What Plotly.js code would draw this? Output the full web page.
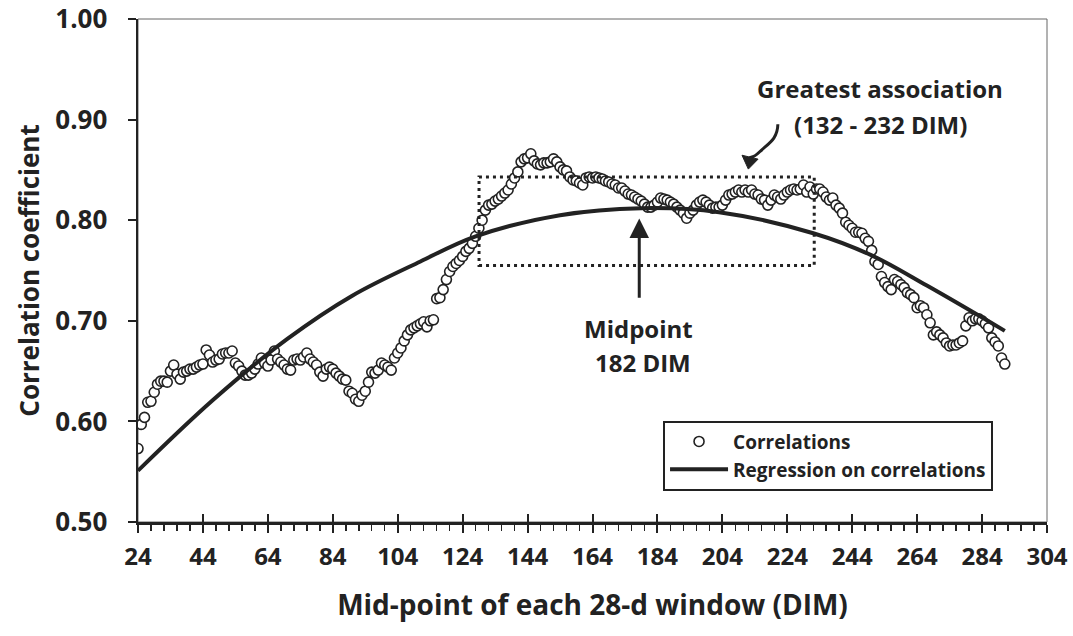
<!DOCTYPE html>
<html>
<head>
<meta charset="utf-8">
<script src="https://cdn.plot.ly/plotly-3.0.1.min.js"></script>
<style>html,body{margin:0;padding:0;background:#fff;}#chart{width:1073px;height:636px;}</style>
</head>
<body>
<div id="chart"></div>
<script>
// Mid-point of each 28-d window (DIM)
const dim = [
 24,25,26,27,28,29,30,31,32,33,
 34,35,36,37,38,39,40,41,42,43,
 44,45,46,47,48,49,50,51,52,53,
 54,55,56,57,58,59,60,61,62,63,
 64,65,66,67,68,69,70,71,72,73,
 74,75,76,77,78,79,80,81,82,83,
 84,85,86,87,88,89,90,91,92,93,
 94,95,96,97,98,99,100,101,102,103,
 104,105,106,107,108,109,110,111,112,113,
 114,115,116,117,118,119,120,121,122,123,
 124,125,126,127,128,129,130,131,132,133,
 134,135,136,137,138,139,140,141,142,143,
 144,145,146,147,148,149,150,151,152,153,
 154,155,156,157,158,159,160,161,162,163,
 164,165,166,167,168,169,170,171,172,173,
 174,175,176,177,178,179,180,181,182,183,
 184,185,186,187,188,189,190,191,192,193,
 194,195,196,197,198,199,200,201,202,203,
 204,205,206,207,208,209,210,211,212,213,
 214,215,216,217,218,219,220,221,222,223,
 224,225,226,227,228,229,230,231,232,233,
 234,235,236,237,238,239,240,241,242,243,
 244,245,246,247,248,249,250,251,252,253,
 254,255,256,257,258,259,260,261,262,263,
 264,265,266,267,268,269,270,271,272,273,
 274,275,276,277,278,279,280,281,282,283,
 284,285,286,287,288,289,290,291
];
// Correlation coefficients
const correlations = [
 0.573,0.597,0.604,0.619,0.620,0.629,0.637,0.640,0.640,0.639,
 0.650,0.656,0.647,0.642,0.649,0.650,0.652,0.652,0.654,0.656,
 0.657,0.671,0.666,0.659,0.661,0.662,0.667,0.668,0.668,0.670,
 0.658,0.655,0.650,0.646,0.646,0.648,0.652,0.657,0.663,0.658,
 0.655,0.661,0.670,0.662,0.659,0.656,0.652,0.651,0.661,0.662,
 0.661,0.664,0.668,0.662,0.659,0.656,0.649,0.645,0.652,0.654,
 0.652,0.648,0.645,0.642,0.641,0.630,0.628,0.622,0.620,0.626,
 0.630,0.639,0.649,0.648,0.651,0.658,0.656,0.654,0.651,0.663,
 0.668,0.673,0.680,0.686,0.691,0.693,0.695,0.697,0.699,0.694,
 0.700,0.701,0.722,0.723,0.731,0.741,0.749,0.754,0.757,0.760,
 0.764,0.769,0.772,0.777,0.784,0.792,0.800,0.810,0.815,0.816,
 0.819,0.821,0.824,0.827,0.830,0.836,0.842,0.848,0.858,0.861,
 0.862,0.866,0.859,0.856,0.855,0.857,0.857,0.858,0.861,0.858,
 0.853,0.850,0.849,0.843,0.840,0.839,0.837,0.835,0.842,0.843,
 0.842,0.843,0.842,0.841,0.839,0.838,0.836,0.835,0.832,0.832,
 0.829,0.826,0.825,0.823,0.821,0.819,0.816,0.813,0.813,0.815,
 0.818,0.822,0.821,0.820,0.818,0.816,0.813,0.810,0.807,0.802,
 0.807,0.810,0.815,0.818,0.820,0.818,0.815,0.812,0.813,0.813,
 0.815,0.820,0.825,0.826,0.828,0.830,0.828,0.830,0.828,0.830,
 0.826,0.825,0.821,0.820,0.815,0.820,0.825,0.823,0.821,0.825,
 0.828,0.830,0.831,0.830,0.831,0.835,0.828,0.833,0.826,0.831,
 0.831,0.828,0.823,0.820,0.822,0.815,0.812,0.807,0.798,0.795,
 0.792,0.788,0.788,0.787,0.782,0.779,0.770,0.759,0.756,0.744,
 0.738,0.734,0.731,0.741,0.739,0.736,0.733,0.728,0.726,0.723,
 0.713,0.715,0.713,0.706,0.698,0.686,0.689,0.686,0.683,0.678,
 0.675,0.676,0.676,0.678,0.680,0.695,0.703,0.700,0.702,0.702,
 0.700,0.697,0.693,0.683,0.679,0.675,0.663,0.657
];
// Regression on correlations
const regDim = [24, 47, 70, 90, 111, 128, 154, 179, 203, 232, 250, 267, 291];
const regCorr = [0.551, 0.621, 0.682, 0.725, 0.759, 0.784, 0.805, 0.812, 0.808, 0.787, 0.765, 0.735, 0.690];

const xTickVals = [24,44,64,84,104,124,144,164,184,204,224,244,264,284,304];
const yTickVals = [0.50,0.60,0.70,0.80,0.90,1.00];
const yTickText = ['0.50','0.60','0.70','0.80','0.90','1.00'];

const FONT = 'Open Sans, Noto Sans, sans-serif';
const INK = '#222';

const traces = [
  {
    x: dim, y: correlations, type: 'scatter', mode: 'markers', name: 'Correlations',
    marker: {symbol: 'circle', size: 10, color: '#fff', line: {color: INK, width: 1.6}},
    hoverinfo: 'x+y'
  },
  {
    x: regDim, y: regCorr, type: 'scatter', mode: 'lines', name: 'Regression on correlations',
    line: {color: INK, width: 4, shape: 'spline', smoothing: 1},
    hoverinfo: 'skip'
  },
  {
    x: [], y: [], xaxis: 'x2', type: 'scatter', mode: 'markers', showlegend: false, hoverinfo: 'skip'
  }
];

const layout = {
  width: 1073, height: 636,
  margin: {l: 138, r: 26, t: 19, b: 114, pad: 0},
  paper_bgcolor: '#fff', plot_bgcolor: '#fff',
  font: {family: FONT, color: INK},
  showlegend: true,
  xaxis: {
    range: [24, 304], tickmode: 'array', tickvals: xTickVals,
    ticks: 'outside', ticklen: 8, tickwidth: 2, tickcolor: INK,
    showline: true, linewidth: 2.5, linecolor: INK,
    showgrid: false, zeroline: false,
    tickfont: {family: FONT, size: 24, weight: 700, color: INK},
    ticklabelstandoff: 4, ticklabeloverflow: 'allow',
    minor: {ticks: 'outside', dtick: 4, tick0: 24, ticklen: 6, tickwidth: 1.5, tickcolor: INK, showgrid: false},
    title: {text: 'Mid-point of each 28-d window (DIM)', font: {family: FONT, size: 28, weight: 700, color: INK}, standoff: 24}
  },
  xaxis2: {
    overlaying: 'x', anchor: 'y', side: 'bottom', range: [24, 304],
    tickmode: 'array', tickvals: xTickVals, ticks: 'inside', ticklen: 8, tickwidth: 2, tickcolor: INK,
    showticklabels: false, showline: false, showgrid: false, zeroline: false
  },
  yaxis: {
    range: [0.5, 1.0], tickmode: 'array', tickvals: yTickVals, ticktext: yTickText,
    ticks: 'outside', ticklen: 8, tickwidth: 2, tickcolor: INK,
    showline: true, linewidth: 2.5, linecolor: INK,
    showgrid: false, zeroline: false,
    tickfont: {family: FONT, size: 26, weight: 700, color: INK},
    ticklabelstandoff: 15, ticklabeloverflow: 'allow',
    title: {text: 'Correlation coefficient', font: {family: FONT, size: 26, weight: 700, color: INK}, standoff: 8}
  },
  legend: {
    x: 0.5776, y: 0.2016, xanchor: 'left', yanchor: 'top',
    bgcolor: '#fff', bordercolor: INK, borderwidth: 2,
    font: {family: FONT, size: 19, weight: 700, color: INK},
    itemwidth: 58, tracegroupgap: 0
  },
  shapes: [
    {type: 'rect', xref: 'paper', yref: 'paper', x0: 0, x1: 1, y0: 0, y1: 1,
     line: {color: '#666', width: 1}, layer: 'below'},
    {type: 'rect', xref: 'x', yref: 'y', x0: 129.05, x1: 232.3, y0: 0.755, y1: 0.843,
     line: {color: INK, width: 3, dash: '3px,4px'}, fillcolor: 'rgba(0,0,0,0)'},
    {type: 'path', xref: 'x', yref: 'y',
     path: 'M221.1,0.8953 C221.0,0.880 218.0,0.876 215.5,0.868 S212.6,0.864 212.5,0.8617',
     line: {color: INK, width: 3}},
    {type: 'path', xref: 'x', yref: 'y',
     path: 'M212.0,0.8508 L210.05,0.8646 L215.0,0.8607 Z',
     line: {color: INK, width: 1}, fillcolor: INK}
  ],
  annotations: [
    {x: 252.6, y: 0.9308, xref: 'x', yref: 'y', text: 'Greatest association', showarrow: false,
     font: {family: FONT, size: 24, weight: 700, color: INK}},
    {x: 252.6, y: 0.8956, xref: 'x', yref: 'y', text: '(132 - 232 DIM)', showarrow: false,
     font: {family: FONT, size: 24, weight: 700, color: INK}},
    {x: 178.3, y: 0.6927, xref: 'x', yref: 'y', text: 'Midpoint', showarrow: false,
     font: {family: FONT, size: 24, weight: 700, color: INK}},
    {x: 179.4, y: 0.6584, xref: 'x', yref: 'y', text: '182 DIM', showarrow: false,
     font: {family: FONT, size: 24, weight: 700, color: INK}},
    {x: 178.4, y: 0.8017, ax: 178.4, ay: 0.7213, xref: 'x', yref: 'y', axref: 'x', ayref: 'y',
     text: '', showarrow: true, arrowhead: 2, arrowsize: 1.3, arrowwidth: 3, arrowcolor: INK}
  ]
};

Plotly.newPlot('chart', traces, layout, {displayModeBar: false, staticPlot: true});
</script>
</body>
</html>
